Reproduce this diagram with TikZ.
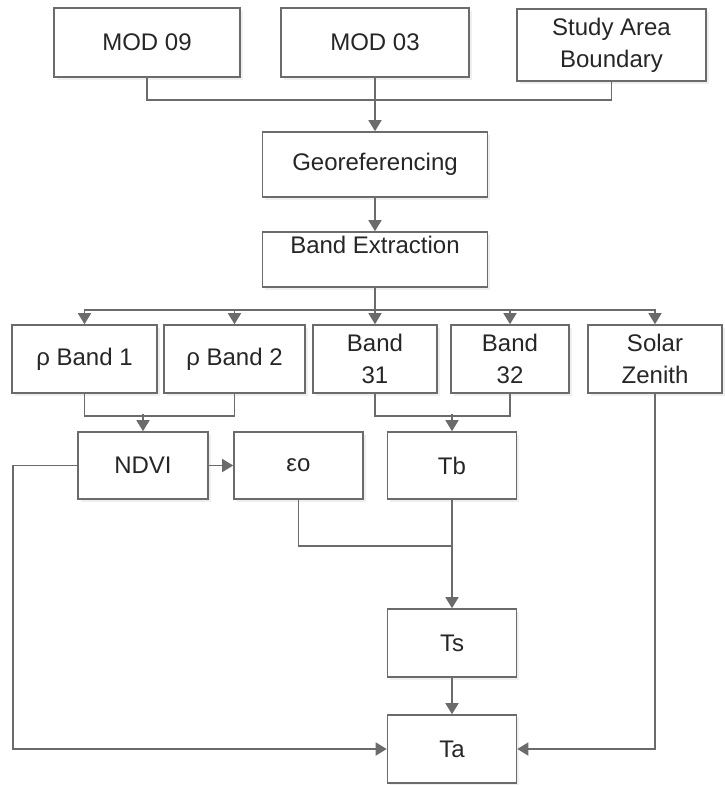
\documentclass[tikz,border=0pt]{standalone}
\usepackage{fontspec}
\setmainfont{Liberation Sans}
\usetikzlibrary{arrows.meta, positioning, shadows}

\begin{document}
\begin{tikzpicture}[
        x=1pt, y=-1pt,
        font=\fontsize{24}{32}\selectfont,
        box/.style={rectangle, draw=black!58, line width=1.6pt, fill=white, text=black!85, align=center, inner sep=2pt, drop shadow={shadow xshift=2.5pt, shadow yshift=-2.5pt, fill=black!12}},
        link/.style={draw=black!58, line width=1.6pt},
        arrow/.style={link, -{Triangle[width=13pt,length=11pt]}}
    ]
        \useasboundingbox (0,0) rectangle (724,785);
        % Nodes
        \node (mod09) [box, minimum width=186pt, minimum height=69pt] at (147,42.5) {MOD 09};
        \node (mod03) [box, minimum width=188pt, minimum height=69pt] at (375,42.5) {MOD 03};
        \node (study) [box, minimum width=189pt, minimum height=72pt] at (611.5,45) {Study Area\\Boundary};
        \node (geo) [box, minimum width=225pt, minimum height=65pt] at (375,164.5) {Georeferencing};
        \node (bandext) [box, minimum width=225pt, minimum height=55pt, inner ysep=3pt, text height=18pt, text depth=31pt] at (375,259.5) {Band Extraction};

        \node (rb1) [box, minimum width=145pt, minimum height=68pt] at (84.5,359) {ρ Band 1};
        \node (rb2) [box, minimum width=141pt, minimum height=68pt] at (234.5,359) {ρ Band 2};
        \node (b31) [box, minimum width=124pt, minimum height=68pt] at (375,359) {Band\\31};
        \node (b32) [box, minimum width=118pt, minimum height=68pt] at (510,359) {Band\\32};
        \node (solar) [box, minimum width=134pt, minimum height=68pt] at (655,359) {Solar\\Zenith};

        \node (ndvi) [box, minimum width=130pt, minimum height=67pt] at (143,465.5) {NDVI};
        \node (eo) [box, minimum width=129pt, minimum height=67pt] at (298.5,465.5) {εo};
        \node (tb) [box, minimum width=129pt, minimum height=67pt] at (452,465.5) {Tb};
        \node (ts) [box, minimum width=129pt, minimum height=68pt] at (452,643) {Ts};
        \node (ta) [box, minimum width=129pt, minimum height=68pt] at (452,749) {Ta};

        % Arrows
        \draw [link] (mod09.south) -- ++(0,22) -| (study.south);
        \draw [arrow] (mod03) -- (geo);
        \draw [arrow] (geo) -- (bandext);

        \draw [arrow] (bandext.south) -- ++(0,22) -| (rb1.north);
        \draw [arrow] (bandext.south) -- ++(0,22) -| (rb2.north);
        \draw [arrow] (bandext) -- (b31);
        \draw [arrow] (bandext.south) -- ++(0,22) -| (b32.north);
        \draw [arrow] (bandext.south) -- ++(0,22) -| (solar.north);

        \draw [link] (rb1.south) -- ++(0,22) -| (rb2.south);
        \draw [arrow] (ndvi.north) ++(0,-17) -- (ndvi.north);
        \draw [link] (b31.south) -- ++(0,22) -| (b32.south);
        \draw [arrow] (tb.north) ++(0,-17) -- (tb.north);

        \draw [arrow] (ndvi) -- (eo);
        \draw [link] (eo.south) -- ++(0,46) -| (tb.south);
        \draw [arrow] (tb) -- (ts);
        \draw [arrow] (ts) -- (ta);
        \draw [arrow] (ndvi.west) -- ++(-64,0) |- (ta.west);
        \draw [arrow] (solar.south) |- (ta.east);
    \end{tikzpicture}
\end{document}
